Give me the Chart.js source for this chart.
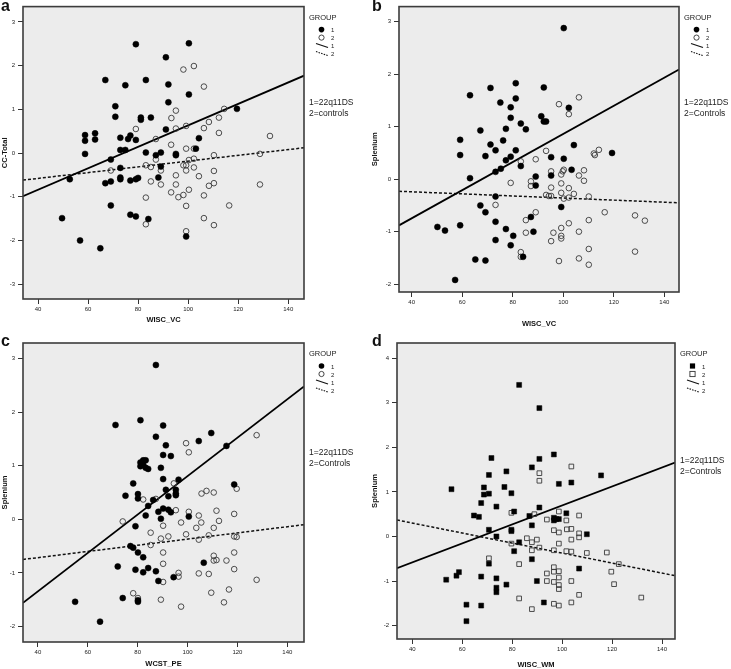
<!DOCTYPE html>
<html>
<head>
<meta charset="utf-8">
<script src="https://cdn.jsdelivr.net/npm/chart.js@4.4.0/dist/chart.umd.min.js"></script>
<style>
    body { margin: 0; background: #fff; width: 731px; height: 669px; position: relative; overflow: hidden; font-family: "Liberation Sans", Arial, sans-serif; }
    canvas { position: absolute; }
    .tag { position: absolute; font-weight: bold; font-size: 16px; line-height: 1; color: #111; }
</style>
</head>
<body>
<canvas id="chartA" width="370" height="330" style="left:0;top:0"></canvas>
<canvas id="chartB" width="361" height="330" style="left:370px;top:0"></canvas>
<canvas id="chartC" width="370" height="339" style="left:0;top:330px"></canvas>
<canvas id="chartD" width="361" height="339" style="left:370px;top:330px"></canvas>
<div class="tag" style="left:1px;top:-2px">a</div>
<div class="tag" style="left:372px;top:-2px">b</div>
<div class="tag" style="left:1px;top:333px">c</div>
<div class="tag" style="left:372px;top:333px">d</div>
<script>
// tick values
const xTicks = [40, 60, 80, 100, 120, 140];
const yTicksA = [-3, -2, -1, 0, 1, 2, 3];
const yTicksB = [-2, -1, 0, 1, 2, 3];
const yTicksC = [-2, -1, 0, 1, 2, 3];
const yTicksD = [-2, -1, 0, 1, 2, 3, 4];

// panel a: WISC_VC vs CC-Total
const a22q = [[79.1,2.49],[100.3,2.51],[91.1,2.19],[66.9,1.67],[83.1,1.67],[74.9,1.55],[92.1,1.57],[100.3,1.34],[92.1,1.16],[70.9,1.07],[70.9,0.83],[81.1,0.81],[81.1,0.76],[85.1,0.81],[119.5,1.01],[58.8,0.41],[58.8,0.28],[62.8,0.45],[62.8,0.31],[72.9,0.35],[76.9,0.40],[76.0,0.32],[79.1,0.30],[91.1,0.54],[104.3,0.34],[58.8,-0.02],[72.9,0.07],[74.9,0.07],[83.1,0.01],[89.1,0.01],[87.1,-0.05],[95.1,-0.02],[95.1,-0.05],[103.1,0.10],[69.1,-0.15],[72.9,-0.34],[72.9,-0.56],[72.9,-0.60],[69.1,-0.65],[66.9,-0.69],[76.9,-0.63],[79.1,-0.60],[80.0,-0.57],[88.1,-0.56],[52.7,-0.60],[89.1,-0.31],[69.1,-1.20],[76.9,-1.41],[79.1,-1.45],[84.1,-1.51],[49.6,-1.49],[56.8,-2.00],[64.9,-2.18],[99.2,-1.91]];
const aCtrl = [[98.1,1.91],[102.3,1.99],[106.3,1.52],[95.1,0.97],[114.4,1.01],[93.3,0.80],[112.3,0.81],[108.3,0.71],[106.3,0.57],[99.2,0.62],[95.1,0.56],[79.1,0.55],[112.3,0.46],[132.7,0.39],[87.1,0.32],[93.2,0.19],[99.2,0.10],[102.3,0.10],[102.3,-0.13],[100.3,-0.16],[110.3,-0.05],[128.7,-0.02],[87.1,-0.15],[83.1,-0.28],[85.1,-0.32],[98.1,-0.28],[99.2,-0.28],[99.2,-0.40],[102.3,-0.33],[69.1,-0.40],[89.1,-0.40],[110.3,-0.41],[95.1,-0.51],[104.3,-0.53],[85.1,-0.65],[89.1,-0.72],[95.1,-0.72],[110.3,-0.69],[108.3,-0.75],[128.7,-0.72],[100.3,-0.84],[93.2,-0.90],[98.1,-0.96],[96.1,-1.01],[83.1,-1.02],[106.3,-0.97],[99.2,-1.21],[116.4,-1.20],[106.3,-1.49],[110.3,-1.65],[83.1,-1.63],[99.2,-1.79]];
const aFit22q = [[34.0,-0.99],[146.3,1.77]];
const aFitCtrl = [[34.0,-0.62],[146.3,0.12]];

// panel b: WISC_VC vs Splenium
const b22q = [[100.2,2.88],[81.2,1.83],[92.3,1.75],[71.2,1.74],[63.1,1.60],[75.1,1.46],[81.2,1.54],[79.2,1.37],[102.2,1.36],[91.3,1.20],[79.2,1.17],[92.3,1.10],[93.2,1.10],[83.2,1.06],[85.2,0.95],[67.2,0.93],[77.3,0.96],[59.2,0.75],[76.2,0.74],[71.2,0.66],[104.2,0.65],[73.2,0.55],[81.2,0.55],[119.3,0.50],[59.2,0.46],[69.2,0.44],[79.2,0.43],[95.2,0.42],[100.2,0.39],[77.3,0.36],[83.2,0.25],[75.3,0.20],[73.2,0.14],[103.3,0.18],[89.1,0.05],[95.2,0.07],[63.1,0.02],[89.1,-0.12],[73.2,-0.33],[67.2,-0.50],[69.2,-0.63],[99.2,-0.53],[87.2,-0.72],[73.2,-0.81],[59.2,-0.88],[50.2,-0.91],[53.2,-0.98],[77.3,-0.95],[88.2,-1.00],[80.2,-1.08],[73.2,-1.16],[79.2,-1.26],[84.1,-1.48],[65.2,-1.53],[69.2,-1.55],[57.2,-1.92]];
const bCtrl = [[106.2,1.56],[98.3,1.43],[102.2,1.24],[114.1,0.56],[112.1,0.49],[112.5,0.46],[93.2,0.54],[89.1,0.38],[83.2,0.34],[95.2,0.15],[99.2,0.09],[100.2,0.18],[99.8,0.15],[106.2,0.07],[108.2,-0.03],[108.2,0.17],[79.2,-0.07],[87.2,-0.04],[87.2,-0.13],[99.2,-0.08],[95.2,-0.16],[102.2,-0.17],[93.2,-0.30],[94.3,-0.32],[95.2,-0.32],[99.2,-0.26],[100.2,-0.37],[102.2,-0.35],[104.2,-0.28],[110.1,-0.33],[73.2,-0.49],[89.1,-0.63],[116.4,-0.63],[85.2,-0.78],[128.4,-0.69],[132.3,-0.79],[110.1,-0.78],[102.2,-0.84],[85.2,-1.02],[96.1,-1.02],[99.2,-0.93],[106.2,-1.00],[99.2,-1.08],[99.2,-1.13],[95.2,-1.18],[110.1,-1.33],[128.4,-1.38],[83.2,-1.39],[83.2,-1.48],[106.2,-1.51],[98.3,-1.56],[110.1,-1.63]];
const bFit22q = [[35.0,-0.88],[145.8,2.09]];
const bFitCtrl = [[35.0,-0.23],[145.8,-0.45]];

// panel c: WCST_PE vs Splenium
const c22q = [[87.3,2.88],[81.1,1.85],[71.1,1.76],[90.2,1.75],[87.3,1.54],[109.5,1.61],[104.5,1.46],[115.6,1.37],[91.3,1.38],[90.2,1.20],[93.3,1.18],[82.2,1.10],[83.2,1.10],[81.1,1.06],[81.1,0.99],[83.2,0.96],[84.2,0.94],[82.2,1.02],[89.3,0.96],[90.2,0.75],[96.4,0.74],[78.2,0.67],[118.7,0.65],[75.1,0.44],[80.1,0.47],[80.1,0.39],[91.3,0.55],[95.3,0.55],[95.3,0.48],[95.3,0.45],[92.3,0.43],[86.2,0.36],[84.2,0.25],[90.2,0.20],[88.3,0.14],[92.3,0.18],[93.3,0.13],[83.2,0.07],[89.3,0.01],[100.5,0.05],[79.1,-0.13],[77.1,-0.50],[78.2,-0.53],[80.1,-0.62],[82.2,-0.71],[106.5,-0.81],[72.0,-0.88],[79.1,-0.94],[84.2,-0.91],[82.2,-0.99],[87.3,-0.97],[94.4,-1.08],[88.3,-1.15],[74.0,-1.47],[80.1,-1.51],[80.1,-1.54],[54.9,-1.54],[64.9,-1.91]];
const cCtrl = [[127.7,1.57],[99.4,1.42],[100.5,1.25],[107.6,0.53],[105.6,0.48],[110.5,0.50],[119.7,0.57],[94.5,0.67],[87.3,0.38],[82.2,0.37],[95.3,0.17],[100.5,0.14],[104.5,0.07],[111.6,0.16],[112.6,-0.03],[118.7,0.10],[74.0,-0.04],[97.4,-0.06],[105.5,-0.06],[85.2,-0.25],[90.2,-0.12],[99.4,-0.28],[103.5,-0.16],[110.5,-0.16],[108.5,-0.30],[92.3,-0.32],[89.3,-0.36],[104.5,-0.38],[85.2,-0.48],[118.7,-0.32],[119.7,-0.33],[90.2,-0.62],[118.7,-0.62],[110.5,-0.68],[110.5,-0.77],[111.6,-0.76],[115.6,-0.77],[90.2,-0.83],[118.7,-0.93],[96.4,-1.00],[96.4,-1.07],[104.5,-1.01],[108.5,-1.02],[127.7,-1.13],[90.2,-1.17],[116.6,-1.31],[109.5,-1.37],[78.2,-1.38],[80.1,-1.47],[89.3,-1.50],[114.6,-1.55],[97.4,-1.63]];
const cFit22q = [[34.0,-1.56],[146.7,2.48]];
const cFitCtrl = [[34.0,-0.75],[146.7,-0.10]];

// panel d: WISC_WM vs Splenium
const d22q = [[82.8,3.40],[90.9,2.88],[96.7,1.84],[90.9,1.74],[71.7,1.76],[87.9,1.55],[77.7,1.46],[70.7,1.38],[115.6,1.37],[76.9,1.11],[68.7,1.10],[103.7,1.21],[98.7,1.18],[55.7,1.06],[70.7,0.96],[68.7,0.94],[79.7,0.97],[67.6,0.75],[73.7,0.67],[90.9,0.65],[64.7,0.47],[66.7,0.44],[80.8,0.56],[101.7,0.52],[86.9,0.46],[96.7,0.42],[96.7,0.36],[97.7,0.39],[98.7,0.39],[87.9,0.25],[79.7,0.15],[79.7,0.12],[70.7,0.15],[109.9,0.05],[73.7,0.00],[82.8,-0.13],[80.8,-0.33],[70.7,-0.61],[87.9,-0.51],[106.8,-0.72],[58.7,-0.80],[57.7,-0.88],[53.6,-0.97],[67.6,-0.90],[89.9,-1.00],[73.7,-0.94],[77.7,-1.08],[73.7,-1.15],[73.7,-1.25],[61.7,-1.53],[67.6,-1.55],[92.7,-1.48],[61.7,-1.90]];
const dCtrl = [[103.7,1.57],[90.9,1.42],[90.9,1.25],[79.7,0.53],[106.8,0.47],[98.7,0.56],[101.7,0.36],[103.7,0.17],[101.9,0.16],[88.9,0.50],[93.9,0.38],[96.7,0.14],[98.7,0.09],[106.8,0.07],[106.8,-0.02],[79.7,-0.16],[85.9,-0.04],[87.9,-0.13],[89.9,-0.07],[90.9,-0.25],[87.9,-0.31],[98.7,-0.16],[103.7,-0.07],[96.7,-0.31],[101.7,-0.33],[103.7,-0.34],[109.9,-0.37],[117.9,-0.36],[122.7,-0.62],[82.8,-0.62],[70.7,-0.49],[96.7,-0.69],[96.7,-0.79],[98.7,-0.78],[119.7,-0.79],[93.9,-1.00],[96.7,-1.02],[98.7,-0.92],[103.7,-1.00],[98.7,-1.09],[98.7,-1.18],[120.8,-1.07],[93.9,-0.83],[106.8,-1.31],[82.8,-1.39],[131.7,-1.37],[87.9,-1.63],[96.7,-1.51],[98.7,-1.55],[103.7,-1.48]];
const dFit22q = [[33.9,-0.71],[145.2,1.66]];
const dFitCtrl = [[33.9,0.37],[145.2,-0.88]];

const FONT = '"Liberation Sans", Arial, sans-serif';
const PLOT_BG = '#ececec';

// background, frame, group legend and code notes
const spssDecor = {
    id: 'spssDecor',
    beforeDraw(chart) {
        const a = chart.chartArea, ctx = chart.ctx;
        ctx.save();
        ctx.fillStyle = PLOT_BG;
        ctx.fillRect(a.left, a.top, a.right - a.left, a.bottom - a.top);
        ctx.restore();
    },
    afterDraw(chart, args, opts) {
        const a = chart.chartArea, ctx = chart.ctx;
        ctx.save();
        ctx.strokeStyle = '#3c3c3c';
        ctx.lineWidth = 1.6;
        ctx.strokeRect(a.left, a.top, a.right - a.left, a.bottom - a.top);

        const R = a.right, T = a.top;
        ctx.fillStyle = '#222';
        ctx.textBaseline = 'middle';
        ctx.textAlign = 'left';
        ctx.font = '7.5px ' + FONT;
        ctx.fillText('GROUP', R + 5, T + 11);

        // markers
        const mx = R + 17.5;
        ctx.fillStyle = '#000';
        ctx.strokeStyle = '#333';
        ctx.lineWidth = 0.9;
        if (opts.shape === 'rect') {
            ctx.fillRect(mx - 2.6, T + 23 - 2.6, 5.2, 5.2);
            ctx.strokeRect(mx - 2.6, T + 31 - 2.6, 5.2, 5.2);
        } else {
            ctx.beginPath(); ctx.arc(mx, T + 23, 2.8, 0, Math.PI * 2); ctx.fill();
            ctx.beginPath(); ctx.arc(mx, T + 31, 2.6, 0, Math.PI * 2); ctx.stroke();
        }
        // fit line keys
        ctx.strokeStyle = '#111';
        ctx.lineWidth = 1.1;
        ctx.beginPath(); ctx.moveTo(R + 12, T + 37); ctx.lineTo(R + 24, T + 41); ctx.stroke();
        ctx.setLineDash([1.5, 1.2]);
        ctx.beginPath(); ctx.moveTo(R + 12, T + 45); ctx.lineTo(R + 24, T + 49); ctx.stroke();
        ctx.setLineDash([]);

        ctx.fillStyle = '#222';
        ctx.font = '6px ' + FONT;
        ctx.fillText('1', R + 27, T + 24);
        ctx.fillText('2', R + 27, T + 32);
        ctx.fillText('1', R + 27, T + 40);
        ctx.fillText('2', R + 27, T + 48);

        ctx.font = '8.5px ' + FONT;
        ctx.fillText(opts.notes[0], R + 5, T + opts.noteY);
        ctx.fillText(opts.notes[1], R + 5, T + opts.noteY + 11);
        ctx.restore();
    }
};

function pts(arr) {
    return arr.map(p => ({x: p[0], y: p[1]}));
}

function makePanel(cfg) {
    const ctx = document.getElementById(cfg.id).getContext('2d');
    const shape = cfg.shape;
    const rad = shape === 'rect' ? 3.5 : 3.0;
    return new Chart(ctx, {
        type: 'scatter',
        data: {
            datasets: [
                {label: '1', data: pts(cfg.g1), pointStyle: shape, pointRadius: rad,
                 backgroundColor: '#000', borderColor: '#000', borderWidth: 0.5},
                {label: '2', data: pts(cfg.g2), pointStyle: shape, pointRadius: rad - 0.2,
                 backgroundColor: 'rgba(0,0,0,0)', borderColor: '#3a3a3a', borderWidth: 0.9},
                {label: 'fit 1', data: pts(cfg.fit1), showLine: true, pointRadius: 0,
                 borderColor: '#000', borderWidth: 1.8},
                {label: 'fit 2', data: pts(cfg.fit2), showLine: true, pointRadius: 0,
                 borderColor: '#111', borderWidth: 1.5, borderDash: [3, 2]}
            ]
        },
        options: {
            responsive: false,
            animation: false,
            events: [],
            layout: {padding: {top: cfg.padTop, right: cfg.padRight, left: 0, bottom: 0}},
            plugins: {
                legend: {display: false},
                tooltip: {enabled: false},
                spssDecor: {shape: shape, notes: cfg.notes, noteY: cfg.noteY}
            },
            scales: {
                x: {
                    type: 'linear', min: cfg.xMin, max: cfg.xMax,
                    afterBuildTicks: s => { s.ticks = xTicks.map(v => ({value: v})); },
                    afterFit: s => { s.height = cfg.xh; },
                    grid: {drawOnChartArea: false, drawTicks: true, tickLength: 5, color: '#333'},
                    border: {display: false},
                    ticks: {font: {family: FONT, size: 6}, color: '#222', padding: 2, autoSkip: false, maxRotation: 0},
                    title: {display: true, text: cfg.xTitle, color: '#111',
                            font: {family: FONT, size: 7.5, weight: 'bold'},
                            padding: {top: 0, bottom: cfg.xTitlePad}}
                },
                y: {
                    type: 'linear', min: cfg.yMin, max: cfg.yMax,
                    afterBuildTicks: s => { s.ticks = cfg.yTicks.map(v => ({value: v})); },
                    afterFit: s => { s.width = cfg.yw; },
                    grid: {drawOnChartArea: false, drawTicks: true, tickLength: 5, color: '#333'},
                    border: {display: false},
                    ticks: {font: {family: FONT, size: 6}, color: '#222', padding: 3, autoSkip: false},
                    title: {display: true, text: cfg.yTitle, color: '#111',
                            font: {family: FONT, size: 7.5, weight: 'bold'},
                            padding: {top: 0, bottom: 0}}
                }
            }
        },
        plugins: [spssDecor]
    });
}

makePanel({id: 'chartA', g1: a22q, g2: aCtrl, fit1: aFit22q, fit2: aFitCtrl, shape: 'circle',
    xTitle: 'WISC_VC', yTitle: 'CC-Total', xMin: 34.0, xMax: 146.3, yMin: -3.34, yMax: 3.35, yTicks: yTicksA,
    yw: 23, xh: 31, padTop: 1, padRight: 66, xTitlePad: 5.5, notes: ['1=22q11DS', '2=controls'], noteY: 96});
makePanel({id: 'chartB', g1: b22q, g2: bCtrl, fit1: bFit22q, fit2: bFitCtrl, shape: 'circle',
    xTitle: 'WISC_VC', yTitle: 'Splenium', xMin: 35.0, xMax: 145.8, yMin: -2.15, yMax: 3.29, yTicks: yTicksB,
    yw: 29, xh: 38, padTop: 1, padRight: 52, xTitlePad: 2, notes: ['1=22q11DS', '2=Controls'], noteY: 96});
makePanel({id: 'chartC', g1: c22q, g2: cCtrl, fit1: cFit22q, fit2: cFitCtrl, shape: 'circle',
    xTitle: 'WCST_PE', yTitle: 'Splenium', xMin: 34.0, xMax: 146.7, yMin: -2.29, yMax: 3.29, yTicks: yTicksC,
    yw: 23, xh: 27, padTop: 13, padRight: 66, xTitlePad: 1, notes: ['1=22q11DS', '2=Controls'], noteY: 110});
makePanel({id: 'chartD', g1: d22q, g2: dCtrl, fit1: dFit22q, fit2: dFitCtrl, shape: 'rect',
    xTitle: 'WISC_WM', yTitle: 'Splenium', xMin: 33.9, xMax: 145.2, yMin: -2.30, yMax: 4.34, yTicks: yTicksD,
    yw: 27, xh: 30, padTop: 13, padRight: 56, xTitlePad: 0, notes: ['1=22q11DS', '2=Controls'], noteY: 118});
</script>
</body>
</html>
